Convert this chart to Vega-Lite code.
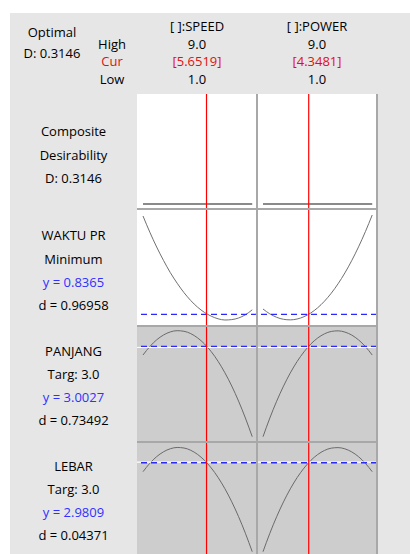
{
  "$schema": "https://vega.github.io/schema/vega-lite/v6.json",
  "background": "white",
  "padding": {"left": 10, "top": 13, "right": 0, "bottom": 0},
  "columns": 4,
  "spacing": 0,
  "bounds": "flush",
  "config": {
    "view": {"stroke": null},
    "font": "Open Sans",
    "text": {"font": "Open Sans", "fontSize": 13},
    "concat": {"spacing": 0}
  },
  "datasets": {
    "header": [
      {"col": "SPEED", "line": "t", "text": "[ ]:SPEED", "kind": "k"},
      {"col": "SPEED", "line": "h", "text": "9.0", "kind": "k"},
      {"col": "SPEED", "line": "c", "text": "[5.6519]", "kind": "cur"},
      {"col": "SPEED", "line": "l", "text": "1.0", "kind": "k"},
      {"col": "POWER", "line": "t", "text": "[ ]:POWER", "kind": "k"},
      {"col": "POWER", "line": "h", "text": "9.0", "kind": "k"},
      {"col": "POWER", "line": "c", "text": "[4.3481]", "kind": "cur"},
      {"col": "POWER", "line": "l", "text": "1.0", "kind": "k"}
    ],
    "hdrlabel": [
      {"pos": "hcl", "line": "h", "text": "High", "kind": "k"},
      {"pos": "hcl", "line": "c", "text": "Cur", "kind": "cur"},
      {"pos": "hcl", "line": "l", "text": "Low", "kind": "k"}
    ],
    "optimal": [
      {"pos": "opt", "line": "o", "text": "Optimal", "kind": "k"},
      {"pos": "opt", "line": "d", "text": "D: 0.3146", "kind": "k"}
    ],
    "labels": [
      {"resp": "COMP", "line": 0, "text": "Composite", "kind": "k"},
      {"resp": "COMP", "line": 1, "text": "Desirability", "kind": "k"},
      {"resp": "COMP", "line": 2, "text": "D: 0.3146", "kind": "k"},
      {"resp": "WAKTU", "line": 0, "text": "WAKTU PR", "kind": "k"},
      {"resp": "WAKTU", "line": 1, "text": "Minimum", "kind": "k"},
      {"resp": "WAKTU", "line": 2, "text": "y = 0.8365", "kind": "y"},
      {"resp": "WAKTU", "line": 3, "text": "d = 0.96958", "kind": "k"},
      {"resp": "PANJANG", "line": 0, "text": "PANJANG", "kind": "k"},
      {"resp": "PANJANG", "line": 1, "text": "Targ: 3.0", "kind": "k"},
      {"resp": "PANJANG", "line": 2, "text": "y = 3.0027", "kind": "y"},
      {"resp": "PANJANG", "line": 3, "text": "d = 0.73492", "kind": "k"},
      {"resp": "LEBAR", "line": 0, "text": "LEBAR", "kind": "k"},
      {"resp": "LEBAR", "line": 1, "text": "Targ: 3.0", "kind": "k"},
      {"resp": "LEBAR", "line": 2, "text": "y = 2.9809", "kind": "y"},
      {"resp": "LEBAR", "line": 3, "text": "d = 0.04371", "kind": "k"}
    ],
    "current": [
      {"factor": "SPEED", "x": 5.6519},
      {"factor": "POWER", "x": 4.3481}
    ],
    "yvals": [
      {"resp": "WAKTU", "y": 0.8365},
      {"resp": "PANJANG", "y": 3.0027, "target": 3.0},
      {"resp": "LEBAR", "y": 2.9809, "target": 3.0}
    ],
    "curves": [
      {"resp": "COMP", "factor": "SPEED", "x": 1, "y": 0.3146},
      {"resp": "COMP", "factor": "SPEED", "x": 5, "y": 0.3146},
      {"resp": "COMP", "factor": "SPEED", "x": 9, "y": 0.3146},
      {"resp": "COMP", "factor": "POWER", "x": 1, "y": 0.3146},
      {"resp": "COMP", "factor": "POWER", "x": 5, "y": 0.3146},
      {"resp": "COMP", "factor": "POWER", "x": 9, "y": 0.3146},

      {"resp": "WAKTU", "factor": "SPEED", "x": 1, "y": 1.328},
      {"resp": "WAKTU", "factor": "SPEED", "x": 1.5, "y": 1.247},
      {"resp": "WAKTU", "factor": "SPEED", "x": 2, "y": 1.173},
      {"resp": "WAKTU", "factor": "SPEED", "x": 2.5, "y": 1.106},
      {"resp": "WAKTU", "factor": "SPEED", "x": 3, "y": 1.045},
      {"resp": "WAKTU", "factor": "SPEED", "x": 3.5, "y": 0.992},
      {"resp": "WAKTU", "factor": "SPEED", "x": 4, "y": 0.945},
      {"resp": "WAKTU", "factor": "SPEED", "x": 4.5, "y": 0.905},
      {"resp": "WAKTU", "factor": "SPEED", "x": 5, "y": 0.872},
      {"resp": "WAKTU", "factor": "SPEED", "x": 5.5, "y": 0.846},
      {"resp": "WAKTU", "factor": "SPEED", "x": 6, "y": 0.827},
      {"resp": "WAKTU", "factor": "SPEED", "x": 6.5, "y": 0.814},
      {"resp": "WAKTU", "factor": "SPEED", "x": 7, "y": 0.808},
      {"resp": "WAKTU", "factor": "SPEED", "x": 7.5, "y": 0.810},
      {"resp": "WAKTU", "factor": "SPEED", "x": 8, "y": 0.818},
      {"resp": "WAKTU", "factor": "SPEED", "x": 8.5, "y": 0.834},
      {"resp": "WAKTU", "factor": "SPEED", "x": 9, "y": 0.859},

      {"resp": "WAKTU", "factor": "POWER", "x": 1, "y": 0.863},
      {"resp": "WAKTU", "factor": "POWER", "x": 1.5, "y": 0.8387},
      {"resp": "WAKTU", "factor": "POWER", "x": 2, "y": 0.8215},
      {"resp": "WAKTU", "factor": "POWER", "x": 2.5, "y": 0.8115},
      {"resp": "WAKTU", "factor": "POWER", "x": 3, "y": 0.8087},
      {"resp": "WAKTU", "factor": "POWER", "x": 3.5, "y": 0.813},
      {"resp": "WAKTU", "factor": "POWER", "x": 4, "y": 0.8245},
      {"resp": "WAKTU", "factor": "POWER", "x": 4.5, "y": 0.8432},
      {"resp": "WAKTU", "factor": "POWER", "x": 5, "y": 0.8689},
      {"resp": "WAKTU", "factor": "POWER", "x": 5.5, "y": 0.9019},
      {"resp": "WAKTU", "factor": "POWER", "x": 6, "y": 0.942},
      {"resp": "WAKTU", "factor": "POWER", "x": 6.5, "y": 0.9892},
      {"resp": "WAKTU", "factor": "POWER", "x": 7, "y": 1.0436},
      {"resp": "WAKTU", "factor": "POWER", "x": 7.5, "y": 1.1052},
      {"resp": "WAKTU", "factor": "POWER", "x": 8, "y": 1.1739},
      {"resp": "WAKTU", "factor": "POWER", "x": 8.5, "y": 1.2498},
      {"resp": "WAKTU", "factor": "POWER", "x": 9, "y": 1.333},

      {"resp": "PANJANG", "factor": "SPEED", "x": 1, "y": 2.9810},
      {"resp": "PANJANG", "factor": "SPEED", "x": 1.5, "y": 3.0022},
      {"resp": "PANJANG", "factor": "SPEED", "x": 2, "y": 3.0189},
      {"resp": "PANJANG", "factor": "SPEED", "x": 2.5, "y": 3.0310},
      {"resp": "PANJANG", "factor": "SPEED", "x": 3, "y": 3.0387},
      {"resp": "PANJANG", "factor": "SPEED", "x": 3.5, "y": 3.0418},
      {"resp": "PANJANG", "factor": "SPEED", "x": 4, "y": 3.0403},
      {"resp": "PANJANG", "factor": "SPEED", "x": 4.5, "y": 3.0344},
      {"resp": "PANJANG", "factor": "SPEED", "x": 5, "y": 3.0238},
      {"resp": "PANJANG", "factor": "SPEED", "x": 5.5, "y": 3.0088},
      {"resp": "PANJANG", "factor": "SPEED", "x": 6, "y": 2.9893},
      {"resp": "PANJANG", "factor": "SPEED", "x": 6.5, "y": 2.9652},
      {"resp": "PANJANG", "factor": "SPEED", "x": 7, "y": 2.9365},
      {"resp": "PANJANG", "factor": "SPEED", "x": 7.5, "y": 2.9034},
      {"resp": "PANJANG", "factor": "SPEED", "x": 8, "y": 2.8657},
      {"resp": "PANJANG", "factor": "SPEED", "x": 8.5, "y": 2.8235},
      {"resp": "PANJANG", "factor": "SPEED", "x": 9, "y": 2.7768},

      {"resp": "PANJANG", "factor": "POWER", "x": 1, "y": 2.7767},
      {"resp": "PANJANG", "factor": "POWER", "x": 1.5, "y": 2.8234},
      {"resp": "PANJANG", "factor": "POWER", "x": 2, "y": 2.8655},
      {"resp": "PANJANG", "factor": "POWER", "x": 2.5, "y": 2.9031},
      {"resp": "PANJANG", "factor": "POWER", "x": 3, "y": 2.9362},
      {"resp": "PANJANG", "factor": "POWER", "x": 3.5, "y": 2.9648},
      {"resp": "PANJANG", "factor": "POWER", "x": 4, "y": 2.9888},
      {"resp": "PANJANG", "factor": "POWER", "x": 4.5, "y": 3.0084},
      {"resp": "PANJANG", "factor": "POWER", "x": 5, "y": 3.0234},
      {"resp": "PANJANG", "factor": "POWER", "x": 5.5, "y": 3.0339},
      {"resp": "PANJANG", "factor": "POWER", "x": 6, "y": 3.0399},
      {"resp": "PANJANG", "factor": "POWER", "x": 6.5, "y": 3.0414},
      {"resp": "PANJANG", "factor": "POWER", "x": 7, "y": 3.0383},
      {"resp": "PANJANG", "factor": "POWER", "x": 7.5, "y": 3.0308},
      {"resp": "PANJANG", "factor": "POWER", "x": 8, "y": 3.0187},
      {"resp": "PANJANG", "factor": "POWER", "x": 8.5, "y": 3.0021},
      {"resp": "PANJANG", "factor": "POWER", "x": 9, "y": 2.9809},

      {"resp": "LEBAR", "factor": "SPEED", "x": 1, "y": 2.7109},
      {"resp": "LEBAR", "factor": "SPEED", "x": 1.5, "y": 2.9636},
      {"resp": "LEBAR", "factor": "SPEED", "x": 2, "y": 3.1627},
      {"resp": "LEBAR", "factor": "SPEED", "x": 2.5, "y": 3.3080},
      {"resp": "LEBAR", "factor": "SPEED", "x": 3, "y": 3.3996},
      {"resp": "LEBAR", "factor": "SPEED", "x": 3.5, "y": 3.4376},
      {"resp": "LEBAR", "factor": "SPEED", "x": 4, "y": 3.4218},
      {"resp": "LEBAR", "factor": "SPEED", "x": 4.5, "y": 3.3524},
      {"resp": "LEBAR", "factor": "SPEED", "x": 5, "y": 3.2292},
      {"resp": "LEBAR", "factor": "SPEED", "x": 5.5, "y": 3.0524},
      {"resp": "LEBAR", "factor": "SPEED", "x": 6, "y": 2.8219},
      {"resp": "LEBAR", "factor": "SPEED", "x": 6.5, "y": 2.5376},
      {"resp": "LEBAR", "factor": "SPEED", "x": 7, "y": 2.1997},
      {"resp": "LEBAR", "factor": "SPEED", "x": 7.5, "y": 1.8081},
      {"resp": "LEBAR", "factor": "SPEED", "x": 8, "y": 1.3628},
      {"resp": "LEBAR", "factor": "SPEED", "x": 8.5, "y": 0.8638},
      {"resp": "LEBAR", "factor": "SPEED", "x": 9, "y": 0.3111},

      {"resp": "LEBAR", "factor": "POWER", "x": 1, "y": 0.3109},
      {"resp": "LEBAR", "factor": "POWER", "x": 1.5, "y": 0.8626},
      {"resp": "LEBAR", "factor": "POWER", "x": 2, "y": 1.3607},
      {"resp": "LEBAR", "factor": "POWER", "x": 2.5, "y": 1.8053},
      {"resp": "LEBAR", "factor": "POWER", "x": 3, "y": 2.1963},
      {"resp": "LEBAR", "factor": "POWER", "x": 3.5, "y": 2.5337},
      {"resp": "LEBAR", "factor": "POWER", "x": 4, "y": 2.8176},
      {"resp": "LEBAR", "factor": "POWER", "x": 4.5, "y": 3.0479},
      {"resp": "LEBAR", "factor": "POWER", "x": 5, "y": 3.2247},
      {"resp": "LEBAR", "factor": "POWER", "x": 5.5, "y": 3.3479},
      {"resp": "LEBAR", "factor": "POWER", "x": 6, "y": 3.4176},
      {"resp": "LEBAR", "factor": "POWER", "x": 6.5, "y": 3.4336},
      {"resp": "LEBAR", "factor": "POWER", "x": 7, "y": 3.3962},
      {"resp": "LEBAR", "factor": "POWER", "x": 7.5, "y": 3.3051},
      {"resp": "LEBAR", "factor": "POWER", "x": 8, "y": 3.1606},
      {"resp": "LEBAR", "factor": "POWER", "x": 8.5, "y": 2.9624},
      {"resp": "LEBAR", "factor": "POWER", "x": 9, "y": 2.7107}
    ]
  },
  "concat": [
    {
      "width": 127, "height": 81, "view": {"fill": "#e6e6e6", "stroke": null},
      "layer": [
        {
          "data": {"name": "hdrlabel"},
          "mark": {"type": "text", "baseline": "middle", "align": "center"},
          "encoding": {
            "x": {"field": "pos", "type": "nominal", "scale": {"type": "point", "domain": ["opt", "hcl"], "padding": 0.558, "align": 0.627}, "axis": null},
            "y": {"field": "line", "type": "ordinal", "scale": {"type": "point", "domain": ["t", "h", "c", "l"], "padding": 0.788}, "axis": null},
            "text": {"field": "text"},
            "color": {"field": "kind", "type": "nominal", "scale": {"domain": ["k", "y", "cur"], "range": ["#000000", "#3030ff", "#e01010"]}, "legend": null}
          }
        },
        {
          "data": {"name": "optimal"},
          "mark": {"type": "text", "baseline": "middle", "align": "center"},
          "encoding": {
            "x": {"field": "pos", "type": "nominal"},
            "y": {"field": "line", "type": "ordinal", "scale": {"type": "point", "domain": ["o", "d", "b"], "padding": 0.929, "align": 0.513}, "axis": null},
            "text": {"field": "text"},
            "color": {"field": "kind", "type": "nominal"}
          }
        }
      ],
      "resolve": {"scale": {"y": "independent"}}
    },
    {
      "width": 120, "height": 81, "view": {"fill": "#e6e6e6", "stroke": null},
      "data": {"name": "header"},
      "transform": [{"filter": "datum.col == 'SPEED'"}],
      "mark": {"type": "text", "baseline": "middle", "align": "center"},
      "encoding": {
        "y": {"field": "line", "type": "ordinal", "scale": {"type": "point", "domain": ["t", "h", "c", "l"], "padding": 0.788}, "axis": null},
        "text": {"field": "text"},
        "color": {"field": "kind", "type": "nominal", "scale": {"domain": ["k", "y", "cur"], "range": ["#000000", "#3030ff", "#e01010"]}, "legend": null}
      }
    },
    {
      "width": 120, "height": 81, "view": {"fill": "#e6e6e6", "stroke": null},
      "data": {"name": "header"},
      "transform": [{"filter": "datum.col == 'POWER'"}],
      "mark": {"type": "text", "baseline": "middle", "align": "center"},
      "encoding": {
        "y": {"field": "line", "type": "ordinal", "scale": {"type": "point", "domain": ["t", "h", "c", "l"], "padding": 0.788}, "axis": null},
        "text": {"field": "text"},
        "color": {"field": "kind", "type": "nominal", "scale": {"domain": ["k", "y", "cur"], "range": ["#000000", "#3030ff", "#e01010"]}, "legend": null}
      }
    },
    {
      "width": 33, "height": 81, "view": {"fill": "#e6e6e6", "stroke": null},
      "data": {"values": [{}]},
      "mark": {"type": "text", "text": ""},
      "encoding": {}
    },

    {
      "width": 127, "height": 115, "view": {"fill": "#e6e6e6", "stroke": null},
      "data": {"name": "labels"},
      "transform": [{"filter": "datum.resp == 'COMP'"}],
      "mark": {"type": "text", "baseline": "middle", "align": "center"},
      "encoding": {
        "y": {"field": "line", "type": "ordinal", "scale": {"type": "point", "domain": [0, 1, 2, 3], "padding": 0.947, "align": 0.854}, "axis": null},
        "text": {"field": "text"},
        "color": {"field": "kind", "type": "nominal", "scale": {"domain": ["k", "y", "cur"], "range": ["#000000", "#3030ff", "#e01010"]}, "legend": null}
      }
    },
    {
      "width": 120, "height": 115, "view": {"fill": "white", "stroke": null},
      "layer": [
        {
          "data": {"name": "curves"},
          "transform": [{"filter": "datum.resp == 'COMP' && datum.factor == 'SPEED'"}],
          "mark": {"type": "line", "color": "#8a8a8a", "strokeWidth": 2},
          "encoding": {
            "x": {"field": "x", "type": "quantitative", "scale": {"domain": [0.56, 9.35], "nice": false, "zero": false}, "axis": null},
            "y": {"field": "y", "type": "quantitative", "scale": {"domain": [0.2896, 0.8646], "nice": false, "zero": false}, "axis": null}
          }
        },
        {
          "data": {"name": "current"},
          "transform": [{"filter": "datum.factor == 'SPEED'"}],
          "mark": {"type": "rule", "color": "#ff0000", "strokeWidth": 1.2},
          "encoding": {"x": {"field": "x", "type": "quantitative"}}
        }
      ]
    },
    {
      "width": 120, "height": 115, "view": {"fill": "white", "stroke": null},
      "layer": [
        {
          "data": {"name": "curves"},
          "transform": [{"filter": "datum.resp == 'COMP' && datum.factor == 'POWER'"}],
          "mark": {"type": "line", "color": "#8a8a8a", "strokeWidth": 2},
          "encoding": {
            "x": {"field": "x", "type": "quantitative", "scale": {"domain": [0.56, 9.35], "nice": false, "zero": false}, "axis": null},
            "y": {"field": "y", "type": "quantitative", "scale": {"domain": [0.2896, 0.8646], "nice": false, "zero": false}, "axis": null}
          }
        },
        {
          "data": {"name": "current"},
          "transform": [{"filter": "datum.factor == 'POWER'"}],
          "mark": {"type": "rule", "color": "#ff0000", "strokeWidth": 1.2},
          "encoding": {"x": {"field": "x", "type": "quantitative"}}
        },
        {
          "data": {"values": [{}]},
          "mark": {"type": "rule", "color": "#a8a8a8", "strokeWidth": 2},
          "encoding": {"x": {"datum": 0.56}}
        }
      ]
    },
    {
      "width": 33, "height": 115, "view": {"fill": "#e6e6e6", "stroke": null},
      "data": {"values": [{}]},
      "mark": {"type": "rule", "color": "#a8a8a8", "strokeWidth": 2},
      "encoding": {"x": {"datum": 0, "scale": {"domain": [0, 1]}, "axis": null}}
    },

    {
      "width": 127, "height": 117, "view": {"fill": "#e6e6e6", "stroke": null},
      "data": {"name": "labels"},
      "transform": [{"filter": "datum.resp == 'WAKTU'"}],
      "mark": {"type": "text", "baseline": "middle", "align": "center"},
      "encoding": {
        "y": {"field": "line", "type": "ordinal", "scale": {"type": "point", "padding": 1, "align": 0.583}, "axis": null},
        "text": {"field": "text"},
        "color": {"field": "kind", "type": "nominal", "scale": {"domain": ["k", "y", "cur"], "range": ["#000000", "#3030ff", "#e01010"]}, "legend": null}
      }
    },
    {
      "width": 120, "height": 117, "view": {"fill": "white", "stroke": null},
      "layer": [
        {
          "data": {"name": "curves"},
          "transform": [{"filter": "datum.resp == 'WAKTU' && datum.factor == 'SPEED'"}],
          "mark": {"type": "line", "color": "#707070", "strokeWidth": 1, "interpolate": "monotone"},
          "encoding": {
            "x": {"field": "x", "type": "quantitative", "scale": {"domain": [0.56, 9.35], "nice": false, "zero": false}, "axis": null},
            "y": {"field": "y", "type": "quantitative", "scale": {"domain": [0.778, 1.363], "nice": false, "zero": false}, "axis": null}
          }
        },
        {
          "data": {"name": "yvals"},
          "transform": [{"filter": "datum.resp == 'WAKTU'"}],
          "mark": {"type": "rule", "color": "#2a2aff", "strokeWidth": 1.2, "strokeDash": [6, 4]},
          "encoding": {"y": {"field": "y", "type": "quantitative"}}
        },
        {
          "data": {"name": "current"},
          "transform": [{"filter": "datum.factor == 'SPEED'"}],
          "mark": {"type": "rule", "color": "#ff0000", "strokeWidth": 1.2},
          "encoding": {"x": {"field": "x", "type": "quantitative"}}
        },
        {
          "data": {"values": [{}]},
          "mark": {"type": "rule", "color": "#a8a8a8", "strokeWidth": 2},
          "encoding": {"y": {"datum": 1.363}}
        }
      ]
    },
    {
      "width": 120, "height": 117, "view": {"fill": "white", "stroke": null},
      "layer": [
        {
          "data": {"name": "curves"},
          "transform": [{"filter": "datum.resp == 'WAKTU' && datum.factor == 'POWER'"}],
          "mark": {"type": "line", "color": "#707070", "strokeWidth": 1, "interpolate": "monotone"},
          "encoding": {
            "x": {"field": "x", "type": "quantitative", "scale": {"domain": [0.56, 9.35], "nice": false, "zero": false}, "axis": null},
            "y": {"field": "y", "type": "quantitative", "scale": {"domain": [0.778, 1.363], "nice": false, "zero": false}, "axis": null}
          }
        },
        {
          "data": {"name": "yvals"},
          "transform": [{"filter": "datum.resp == 'WAKTU'"}],
          "mark": {"type": "rule", "color": "#2a2aff", "strokeWidth": 1.2, "strokeDash": [6, 4]},
          "encoding": {"y": {"field": "y", "type": "quantitative"}}
        },
        {
          "data": {"name": "current"},
          "transform": [{"filter": "datum.factor == 'POWER'"}],
          "mark": {"type": "rule", "color": "#ff0000", "strokeWidth": 1.2},
          "encoding": {"x": {"field": "x", "type": "quantitative"}}
        },
        {
          "data": {"values": [{}]},
          "mark": {"type": "rule", "color": "#a8a8a8", "strokeWidth": 2},
          "encoding": {"y": {"datum": 1.363}}
        },
        {
          "data": {"values": [{}]},
          "mark": {"type": "rule", "color": "#a8a8a8", "strokeWidth": 2},
          "encoding": {"x": {"datum": 0.56}}
        }
      ]
    },
    {
      "width": 33, "height": 117, "view": {"fill": "#e6e6e6", "stroke": null},
      "data": {"values": [{}]},
      "mark": {"type": "rule", "color": "#a8a8a8", "strokeWidth": 2},
      "encoding": {"x": {"datum": 0, "scale": {"domain": [0, 1]}, "axis": null}}
    },

    {
      "width": 127, "height": 116, "view": {"fill": "#e6e6e6", "stroke": null},
      "data": {"name": "labels"},
      "transform": [{"filter": "datum.resp == 'PANJANG'"}],
      "mark": {"type": "text", "baseline": "middle", "align": "center"},
      "encoding": {
        "y": {"field": "line", "type": "ordinal", "scale": {"type": "point", "padding": 1, "align": 0.553}, "axis": null},
        "text": {"field": "text"},
        "color": {"field": "kind", "type": "nominal", "scale": {"domain": ["k", "y", "cur"], "range": ["#000000", "#3030ff", "#e01010"]}, "legend": null}
      }
    },
    {
      "width": 120, "height": 116, "view": {"fill": "#cdcdcd", "stroke": null},
      "layer": [
        {
          "data": {"name": "curves"},
          "transform": [{"filter": "datum.resp == 'PANJANG' && datum.factor == 'SPEED'"}],
          "mark": {"type": "line", "color": "#6a6a6a", "strokeWidth": 1, "interpolate": "monotone"},
          "encoding": {
            "x": {"field": "x", "type": "quantitative", "scale": {"domain": [0.56, 9.35], "nice": false, "zero": false}, "axis": null},
            "y": {"field": "y", "type": "quantitative", "scale": {"domain": [2.7635, 3.0535], "nice": false, "zero": false}, "axis": null}
          }
        },
        {
          "data": {"name": "yvals"},
          "transform": [{"filter": "datum.resp == 'PANJANG'"}],
          "mark": {"type": "rule", "color": "white", "strokeWidth": 1},
          "encoding": {"y": {"field": "target", "type": "quantitative"}}
        },
        {
          "data": {"name": "yvals"},
          "transform": [{"filter": "datum.resp == 'PANJANG'"}],
          "mark": {"type": "rule", "color": "#2a2aff", "strokeWidth": 1.2, "strokeDash": [6, 4]},
          "encoding": {"y": {"field": "y", "type": "quantitative"}}
        },
        {
          "data": {"name": "current"},
          "transform": [{"filter": "datum.factor == 'SPEED'"}],
          "mark": {"type": "rule", "color": "#ff0000", "strokeWidth": 1.2},
          "encoding": {"x": {"field": "x", "type": "quantitative"}}
        },
        {
          "data": {"values": [{}]},
          "mark": {"type": "rule", "color": "#a8a8a8", "strokeWidth": 2},
          "encoding": {"y": {"datum": 3.0535}}
        }
      ]
    },
    {
      "width": 120, "height": 116, "view": {"fill": "#cdcdcd", "stroke": null},
      "layer": [
        {
          "data": {"name": "curves"},
          "transform": [{"filter": "datum.resp == 'PANJANG' && datum.factor == 'POWER'"}],
          "mark": {"type": "line", "color": "#6a6a6a", "strokeWidth": 1, "interpolate": "monotone"},
          "encoding": {
            "x": {"field": "x", "type": "quantitative", "scale": {"domain": [0.56, 9.35], "nice": false, "zero": false}, "axis": null},
            "y": {"field": "y", "type": "quantitative", "scale": {"domain": [2.7635, 3.0535], "nice": false, "zero": false}, "axis": null}
          }
        },
        {
          "data": {"name": "yvals"},
          "transform": [{"filter": "datum.resp == 'PANJANG'"}],
          "mark": {"type": "rule", "color": "white", "strokeWidth": 1},
          "encoding": {"y": {"field": "target", "type": "quantitative"}}
        },
        {
          "data": {"name": "yvals"},
          "transform": [{"filter": "datum.resp == 'PANJANG'"}],
          "mark": {"type": "rule", "color": "#2a2aff", "strokeWidth": 1.2, "strokeDash": [6, 4]},
          "encoding": {"y": {"field": "y", "type": "quantitative"}}
        },
        {
          "data": {"name": "current"},
          "transform": [{"filter": "datum.factor == 'POWER'"}],
          "mark": {"type": "rule", "color": "#ff0000", "strokeWidth": 1.2},
          "encoding": {"x": {"field": "x", "type": "quantitative"}}
        },
        {
          "data": {"values": [{}]},
          "mark": {"type": "rule", "color": "#a8a8a8", "strokeWidth": 2},
          "encoding": {"y": {"datum": 3.0535}}
        },
        {
          "data": {"values": [{}]},
          "mark": {"type": "rule", "color": "#a8a8a8", "strokeWidth": 2},
          "encoding": {"x": {"datum": 0.56}}
        }
      ]
    },
    {
      "width": 33, "height": 116, "view": {"fill": "#e6e6e6", "stroke": null},
      "data": {"values": [{}]},
      "mark": {"type": "rule", "color": "#a8a8a8", "strokeWidth": 2},
      "encoding": {"x": {"datum": 0, "scale": {"domain": [0, 1]}, "axis": null}}
    },

    {
      "width": 127, "height": 112, "view": {"fill": "#e6e6e6", "stroke": null},
      "data": {"name": "labels"},
      "transform": [{"filter": "datum.resp == 'LEBAR'"}],
      "mark": {"type": "text", "baseline": "middle", "align": "center"},
      "encoding": {
        "y": {"field": "line", "type": "ordinal", "scale": {"type": "point", "padding": 0.935, "align": 0.58}, "axis": null},
        "text": {"field": "text"},
        "color": {"field": "kind", "type": "nominal", "scale": {"domain": ["k", "y", "cur"], "range": ["#000000", "#3030ff", "#e01010"]}, "legend": null}
      }
    },
    {
      "width": 120, "height": 112, "view": {"fill": "#cdcdcd", "stroke": null},
      "layer": [
        {
          "data": {"name": "curves"},
          "transform": [{"filter": "datum.resp == 'LEBAR' && datum.factor == 'SPEED'"}],
          "mark": {"type": "line", "color": "#6a6a6a", "strokeWidth": 1, "interpolate": "monotone"},
          "encoding": {
            "x": {"field": "x", "type": "quantitative", "scale": {"domain": [0.56, 9.35], "nice": false, "zero": false}, "axis": null},
            "y": {"field": "y", "type": "quantitative", "scale": {"domain": [0.2419, 3.6019], "nice": false, "zero": false}, "axis": null}
          }
        },
        {
          "data": {"name": "yvals"},
          "transform": [{"filter": "datum.resp == 'LEBAR'"}],
          "mark": {"type": "rule", "color": "white", "strokeWidth": 1.2},
          "encoding": {"y": {"field": "target", "type": "quantitative"}}
        },
        {
          "data": {"name": "yvals"},
          "transform": [{"filter": "datum.resp == 'LEBAR'"}],
          "mark": {"type": "rule", "color": "#2a2aff", "strokeWidth": 1.4, "strokeDash": [6, 4]},
          "encoding": {"y": {"field": "y", "type": "quantitative"}}
        },
        {
          "data": {"name": "current"},
          "transform": [{"filter": "datum.factor == 'SPEED'"}],
          "mark": {"type": "rule", "color": "#ff0000", "strokeWidth": 1.2},
          "encoding": {"x": {"field": "x", "type": "quantitative"}}
        },
        {
          "data": {"values": [{}]},
          "mark": {"type": "rule", "color": "#a8a8a8", "strokeWidth": 2},
          "encoding": {"y": {"datum": 3.6019}}
        }
      ]
    },
    {
      "width": 120, "height": 112, "view": {"fill": "#cdcdcd", "stroke": null},
      "layer": [
        {
          "data": {"name": "curves"},
          "transform": [{"filter": "datum.resp == 'LEBAR' && datum.factor == 'POWER'"}],
          "mark": {"type": "line", "color": "#6a6a6a", "strokeWidth": 1, "interpolate": "monotone"},
          "encoding": {
            "x": {"field": "x", "type": "quantitative", "scale": {"domain": [0.56, 9.35], "nice": false, "zero": false}, "axis": null},
            "y": {"field": "y", "type": "quantitative", "scale": {"domain": [0.2419, 3.6019], "nice": false, "zero": false}, "axis": null}
          }
        },
        {
          "data": {"name": "yvals"},
          "transform": [{"filter": "datum.resp == 'LEBAR'"}],
          "mark": {"type": "rule", "color": "white", "strokeWidth": 1.2},
          "encoding": {"y": {"field": "target", "type": "quantitative"}}
        },
        {
          "data": {"name": "yvals"},
          "transform": [{"filter": "datum.resp == 'LEBAR'"}],
          "mark": {"type": "rule", "color": "#2a2aff", "strokeWidth": 1.4, "strokeDash": [6, 4]},
          "encoding": {"y": {"field": "y", "type": "quantitative"}}
        },
        {
          "data": {"name": "current"},
          "transform": [{"filter": "datum.factor == 'POWER'"}],
          "mark": {"type": "rule", "color": "#ff0000", "strokeWidth": 1.2},
          "encoding": {"x": {"field": "x", "type": "quantitative"}}
        },
        {
          "data": {"values": [{}]},
          "mark": {"type": "rule", "color": "#a8a8a8", "strokeWidth": 2},
          "encoding": {"y": {"datum": 3.6019}}
        },
        {
          "data": {"values": [{}]},
          "mark": {"type": "rule", "color": "#a8a8a8", "strokeWidth": 2},
          "encoding": {"x": {"datum": 0.56}}
        }
      ]
    },
    {
      "width": 33, "height": 112, "view": {"fill": "#e6e6e6", "stroke": null},
      "data": {"values": [{}]},
      "mark": {"type": "rule", "color": "#a8a8a8", "strokeWidth": 2},
      "encoding": {"x": {"datum": 0, "scale": {"domain": [0, 1]}, "axis": null}}
    }
  ]
}
